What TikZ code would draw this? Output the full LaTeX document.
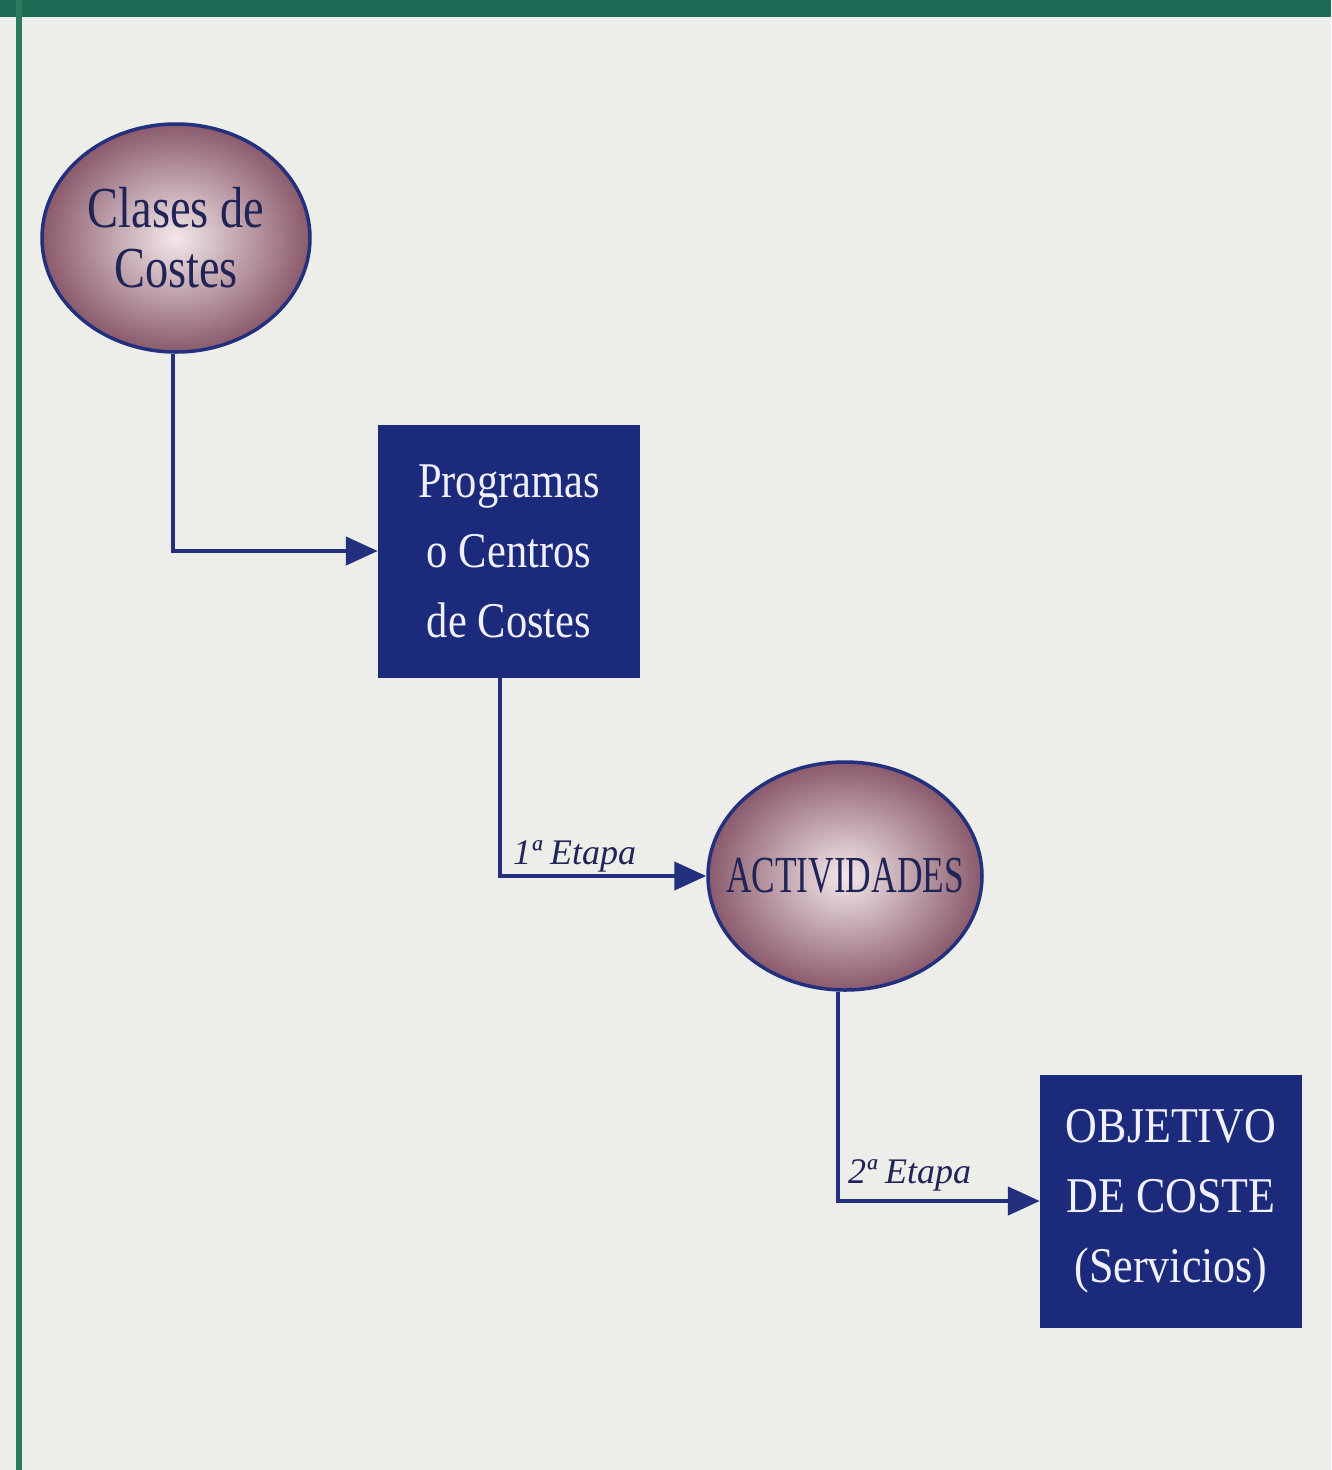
\documentclass[tikz,border=0pt]{standalone}
\usepackage{fontspec}
\setmainfont{Liberation Serif}
\newfontfamily\fontEl[FakeStretch=0.80]{Liberation Serif}
\newfontfamily\fontBa[FakeStretch=0.85]{Liberation Serif}
\newfontfamily\fontBb[FakeStretch=0.88]{Liberation Serif}
\newfontfamily\fontAc[FakeStretch=0.68]{Liberation Serif}
\usetikzlibrary{shapes.geometric,arrows.meta,calc}
\definecolor{bgcol}{HTML}{EDEDEA}
\definecolor{greenband}{HTML}{1D6A55}
\definecolor{greenline}{HTML}{2C7A5E}
\definecolor{navy}{HTML}{1C2A7C}
\definecolor{linecol}{HTML}{22307E}
\definecolor{eltext}{HTML}{202456}
\definecolor{mauve}{HTML}{8A5A6C}
\definecolor{pinkwhite}{HTML}{F3E8EA}
\tikzset{
  ellnode/.style={ellipse, draw=linecol, line width=3.5pt, inner sep=0pt,
    minimum width=268pt, minimum height=228pt,
    inner color=pinkwhite, outer color=mauve, text=eltext, align=center},
  boxnode/.style={rectangle, fill=navy, inner sep=0pt,
    minimum width=262pt, minimum height=253pt, text=white!94!blue, align=center},
  arr/.style={draw=linecol, line width=4.5pt,
    -{Triangle[length=32pt,width=28pt]}},
  lbl/.style={text=eltext, font=\itshape\fontsize{36}{40}\selectfont, inner sep=0pt}
}
\begin{document}
\begin{tikzpicture}[x=1pt,y=-1pt]
\useasboundingbox (0,0) rectangle (1331,1470);
\fill[bgcol] (0,0) rectangle (1331,1470);
\fill[greenband] (0,0) rectangle (1331,17);
\fill[greenline] (16,0) rectangle (22,1470);

\node[ellnode, font=\fontEl\fontsize{58}{60}\selectfont] (e1) at (176,238) {\makebox[0pt]{Clases de}\\\makebox[0pt]{Costes}};
\node[boxnode, font=\fontBa\fontsize{50}{70}\selectfont] (b1) at (509,551) {Programas\\o Centros\\de Costes};
\node[ellnode, minimum width=274pt, font=\fontAc\fontsize{52}{60}\selectfont] (e2) at (845,876) {\makebox[0pt]{ACTIVIDADES}};
\node[boxnode, font=\fontBb\fontsize{50}{70}\selectfont] (b2) at (1171,1201) {OBJETIVO\\DE COSTE\\(Servicios)};

\draw[arr] ([xshift=-3pt]e1.south) |- (b1.west);
\draw[arr] ([xshift=-9pt]b1.south) |- (e2.west);
\draw[arr] ([xshift=-7pt]e2.south) |- (b2.west);

\node[lbl, anchor=base west] (l1) at (513,864) {1ª Etapa};
\node[lbl, anchor=base west] (l2) at (848,1183) {2ª Etapa};
\end{tikzpicture}
\end{document}
